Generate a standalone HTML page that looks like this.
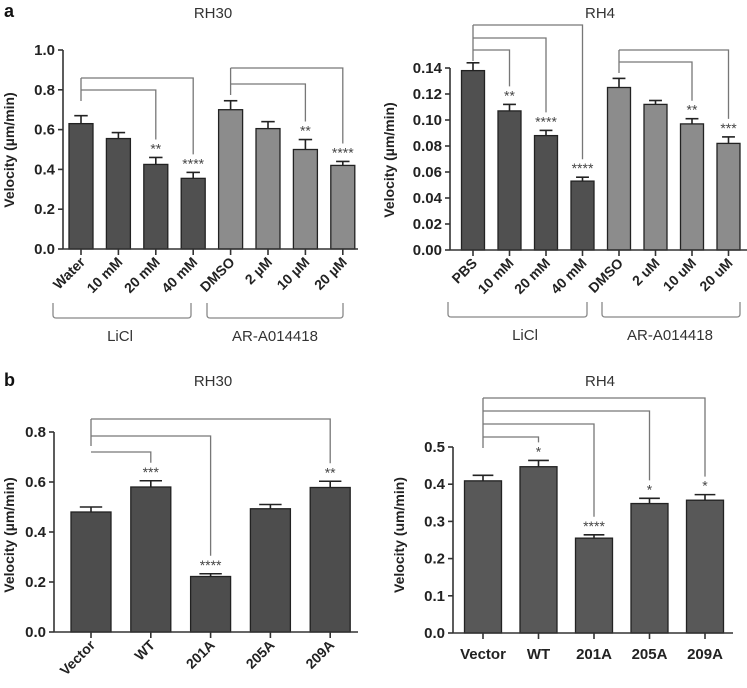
<!DOCTYPE html>
<html><head><meta charset="utf-8">
<style>
html,body{margin:0;padding:0;background:#fff;}
svg{display:block;font-family:"Liberation Sans",Arial,sans-serif;}
</style></head>
<body>
<svg id="fig" width="747" height="688" viewBox="0 0 747 688"></svg>
<script>
// ---- Panel a, RH30 ----
const aL_categories = ["Water","10 mM","20 mM","40 mM","DMSO","2 µM","10 µM","20 µM"];
const aL_values = [0.63,0.555,0.425,0.355,0.70,0.605,0.50,0.42];
const aL_errors = [0.04,0.03,0.035,0.03,0.045,0.035,0.05,0.02];
const aL_stars = ["","","**","****","","","**","****"];
const aL_ticks = [0.0,0.2,0.4,0.6,0.8,1.0];
const aL_tickLabels = ["0.0","0.2","0.4","0.6","0.8","1.0"];
// ---- Panel a, RH4 ----
const aR_categories = ["PBS","10 mM","20 mM","40 mM","DMSO","2 uM","10 uM","20 uM"];
const aR_values = [0.138,0.107,0.088,0.053,0.125,0.112,0.097,0.082];
const aR_errors = [0.006,0.005,0.004,0.003,0.007,0.003,0.004,0.005];
const aR_stars = ["","**","****","****","","","**","***"];
const aR_ticks = [0,0.02,0.04,0.06,0.08,0.10,0.12,0.14];
const aR_tickLabels = ["0.00","0.02","0.04","0.06","0.08","0.10","0.12","0.14"];
// ---- Panel b, RH30 ----
const bL_categories = ["Vector","WT","201A","205A","209A"];
const bL_values = [0.48,0.58,0.222,0.493,0.578];
const bL_errors = [0.02,0.025,0.011,0.017,0.025];
const bL_stars = ["","***","****","","**"];
const bL_ticks = [0,0.2,0.4,0.6,0.8];
const bL_tickLabels = ["0.0","0.2","0.4","0.6","0.8"];
// ---- Panel b, RH4 ----
const bR_categories = ["Vector","WT","201A","205A","209A"];
const bR_values = [0.409,0.447,0.255,0.348,0.357];
const bR_errors = [0.015,0.017,0.009,0.014,0.015];
const bR_stars = ["","*","****","*","*"];
const bR_ticks = [0,0.1,0.2,0.3,0.4,0.5];
const bR_tickLabels = ["0.0","0.1","0.2","0.3","0.4","0.5"];

const NS = "http://www.w3.org/2000/svg";
const svg = document.getElementById("fig");
function el(tag, attrs, parent, text){
  const e = document.createElementNS(NS, tag);
  for (const k in attrs) e.setAttribute(k, attrs[k]);
  if (text !== undefined) e.textContent = text;
  (parent||svg).appendChild(e);
  return e;
}

function drawChart(cfg, cats, vals, errs, stars, ticks, tickLabels){
  const g = el("g", {});
  
  
  const y = v => cfg.y0 - (v - 0) / cfg.vmax * (cfg.y0 - cfg.yTop);
  const x = i => cfg.x0 + i * cfg.step;
  const ax = el("line", {x1:cfg.axX, x2:cfg.axX, y1:y(ticks[ticks.length-1]), y2:cfg.y0, stroke:"#333", "stroke-width":1.6}, g);
  
  
  ticks.forEach((t, i) => {
    el("line", {x1:cfg.axX-5, x2:cfg.axX, y1:y(t), y2:y(t), stroke:"#333", "stroke-width":1.6}, g);
    const tl = el("text", {x:cfg.axX-8, y:y(t)+5, "text-anchor":"end", "font-size":15, "font-weight":"bold", fill:"#222"}, g, tickLabels[i]);
    
    
  });
  cats.forEach((c, i) => {
    const cx = x(i);
    const col = cfg.colors ? cfg.colors[i] : cfg.color;
    const b = el("rect", {x:cx - cfg.bw/2, y:y(vals[i]), width:cfg.bw, height:cfg.y0 - y(vals[i]), fill:col, stroke:"#222", "stroke-width":1.3}, g);
    
    
    const et = y(vals[i] + errs[i]);
    el("line", {x1:cx, x2:cx, y1:et, y2:y(vals[i]), stroke:"#222", "stroke-width":1.6}, g);
    el("line", {x1:cx - cfg.bw*0.28, x2:cx + cfg.bw*0.28, y1:et, y2:et, stroke:"#222", "stroke-width":1.6}, g);
    if (stars[i]) {
      const s = el("text", {x:cx, y:et - 4, "text-anchor":"middle", "font-size":14, fill:"#444"}, g, stars[i]);
      
      
    }
    el("line", {x1:cx, x2:cx, y1:cfg.y0, y2:cfg.y0+6, stroke:"#333", "stroke-width":1.6}, g);
    let lbl;
    if (cfg.rotate) {
      lbl = el("text", {x:cx+5, y:cfg.y0+14, "text-anchor":"end", "font-size":cfg.lblSize||14, "font-weight":"bold", fill:"#222", transform:`rotate(-45 ${cx+5} ${cfg.y0+14})`}, g, c);
    } else {
      lbl = el("text", {x:cx, y:cfg.y0+26, "text-anchor":"middle", "font-size":15, "font-weight":"bold", fill:"#222"}, g, c);
    }
    
    
  });
  const xa = el("line", {x1:cfg.axX, x2:cfg.axEnd, y1:cfg.y0, y2:cfg.y0, stroke:"#333", "stroke-width":1.6}, g);
  
  
  cfg.brackets.forEach(br => {
    const [from, tos, ys, downTo] = br;
    const fx = x(from);
    el("line", {x1:fx, x2:fx, y1:Math.min(...ys), y2:downTo, stroke:"#777", "stroke-width":1.3}, g);
    tos.forEach((t, k) => {
      const tx = x(t);
      const sy = y(vals[t] + errs[t]) - 18;
      const p = el("polyline", {points:`${fx},${ys[k]} ${tx},${ys[k]} ${tx},${sy}`, fill:"none", stroke:"#777", "stroke-width":1.3}, g);
      
      
    });
  });
  const yt = el("text", {x:cfg.ytX, y:cfg.ytY, "text-anchor":"middle", "font-size":14, "font-weight":"bold", fill:"#222", transform:`rotate(-90 ${cfg.ytX} ${cfg.ytY})`}, g, cfg.ytitle);
  
  
  const ti = el("text", {x:cfg.tX, y:cfg.tY, "text-anchor":"middle", "font-size":15, fill:"#333"}, g, cfg.title);
  
  
  return g;
}

function brace(x1, x2, yTop, label, lx){
  const p = el("path", {d:`M${x1},${yTop} L${x1},${yTop+12} Q${x1},${yTop+15} ${x1+3},${yTop+15} L${x2-3},${yTop+15} Q${x2},${yTop+15} ${x2},${yTop+12} L${x2},${yTop}`, fill:"none", stroke:"#888", "stroke-width":1.3});
  
  
  const t = el("text", {x:lx, y:yTop+38, "text-anchor":"middle", "font-size":15, fill:"#333"}, svg, label);
  
  
}

const dark = "#505050", light = "#8c8c8c";

drawChart({name:"chart-a-rh30", axX:63, axEnd:358, x0:81, step:37.4, bw:24, y0:249, yTop:50, vmax:1.0,
  colors:[dark,dark,dark,dark,light,light,light,light], rotate:true,
  brackets:[[0,[2,3],[90,78],101],[4,[6,7],[84,68],95]],
  ytX:14, ytY:150, ytitle:"Velocity (µm/min)", tX:213, tY:18, title:"RH30"},
  aL_categories, aL_values, aL_errors, aL_stars, aL_ticks, aL_tickLabels);

drawChart({name:"chart-a-rh4", axX:450, axEnd:747, x0:473, step:36.5, bw:23, y0:250, yTop:68, vmax:0.14,
  colors:[dark,dark,dark,dark,light,light,light,light], rotate:true,
  brackets:[[0,[1,2,3],[50,38,25],61],[4,[6,7],[62,50],73]],
  ytX:394, ytY:160, ytitle:"Velocity (µm/min)", tX:600, tY:18, title:"RH4"},
  aR_categories, aR_values, aR_errors, aR_stars, aR_ticks, aR_tickLabels);

brace(53, 191, 303, "LiCl", 120);
brace(207, 343, 303, "AR-A014418", 275);
brace(448, 587, 302, "LiCl", 525);
brace(602, 740, 302, "AR-A014418", 670);

drawChart({name:"chart-b-rh30", axX:54, axEnd:358, x0:91, step:59.8, bw:40, y0:632, yTop:432, vmax:0.8,
  color:"#4d4d4d", rotate:true, lblSize:14,
  brackets:[[0,[1,2,4],[452,436,419],446]],
  ytX:14, ytY:535, ytitle:"Velocity (µm/min)", tX:213, tY:386, title:"RH30"},
  bL_categories, bL_values, bL_errors, bL_stars, bL_ticks, bL_tickLabels);

drawChart({name:"chart-b-rh4", axX:453, axEnd:733, x0:483, step:55.5, bw:37, y0:633, yTop:447, vmax:0.5,
  color:"#585858", rotate:false,
  brackets:[[0,[1,2,3,4],[437,424,411,398],448]],
  ytX:404, ytY:535, ytitle:"Velocity (um/min)", tX:600, tY:386, title:"RH4"},
  bR_categories, bR_values, bR_errors, bR_stars, bR_ticks, bR_tickLabels);

const pa = el("text", {x:4, y:17, "font-size":18, "font-weight":"bold", fill:"#111"}, svg, "a");


const pb = el("text", {x:4, y:386, "font-size":18, "font-weight":"bold", fill:"#111"}, svg, "b");


</script>
</body></html>
